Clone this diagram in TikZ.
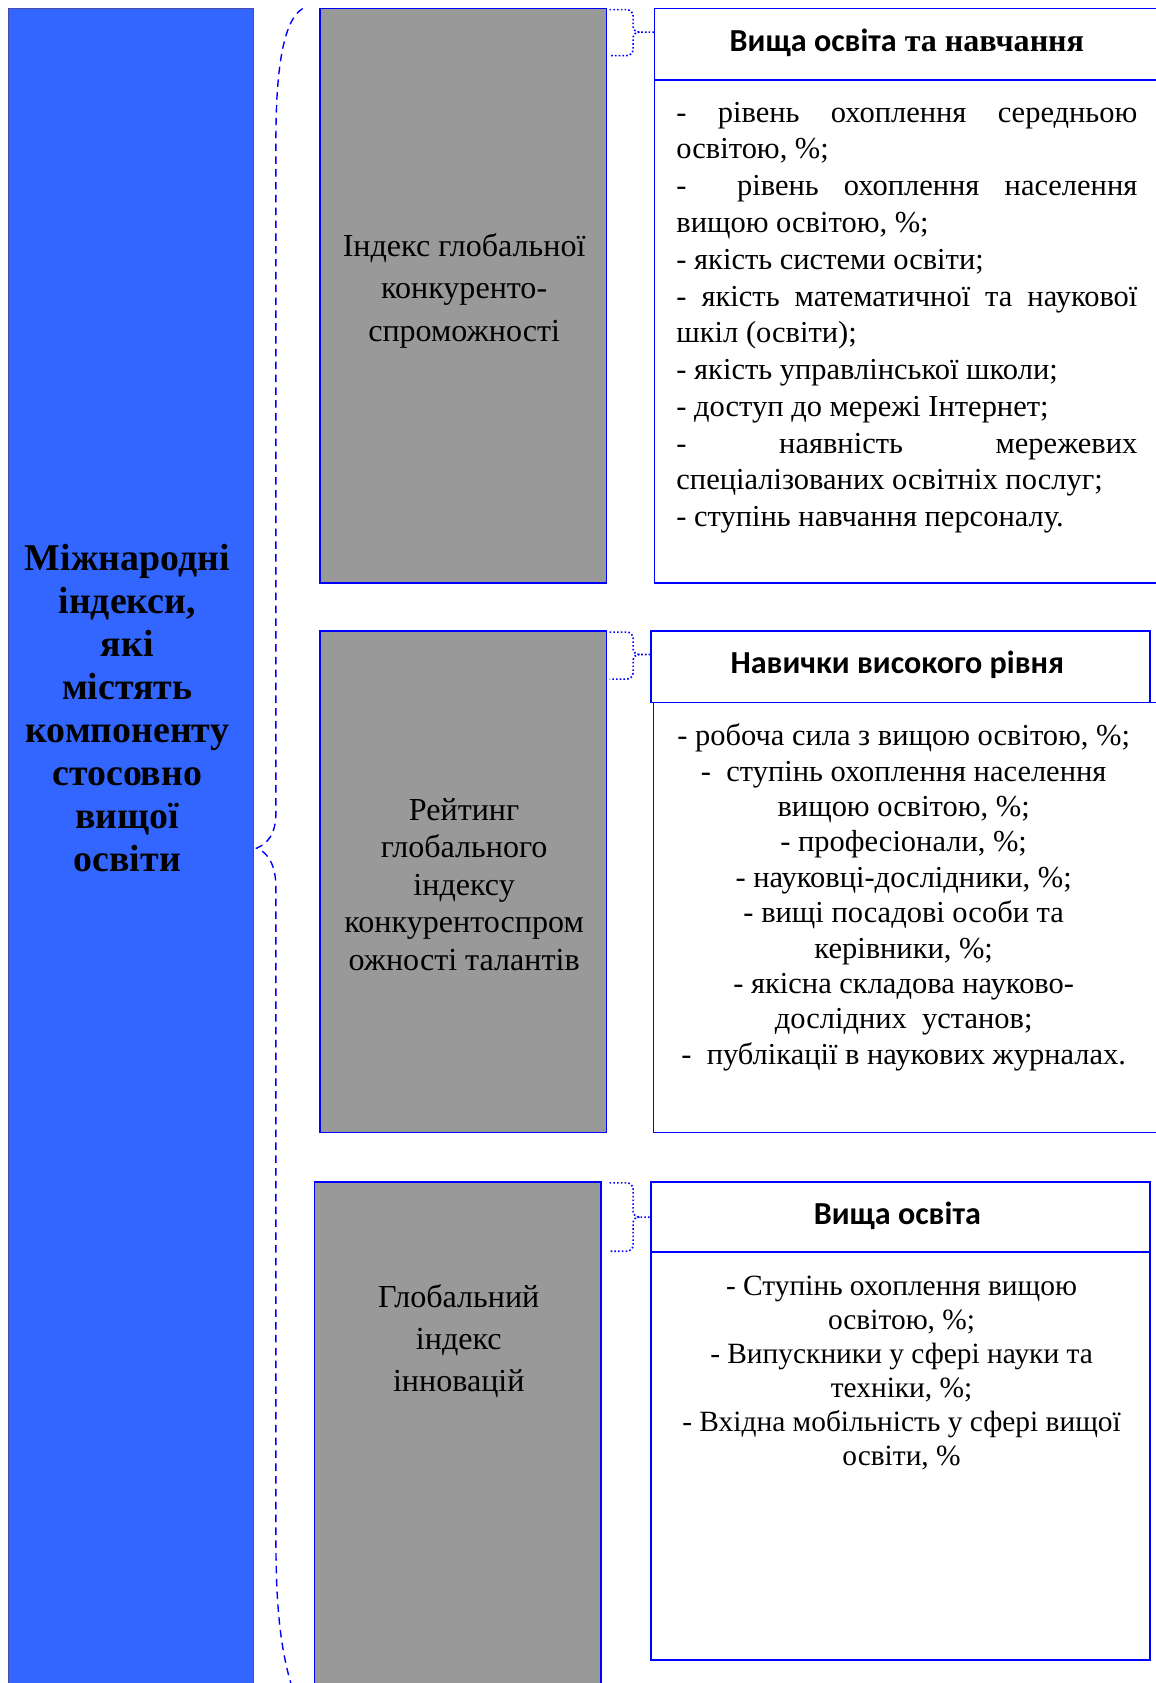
\documentclass[tikz,border=0pt]{standalone}
\usepackage{fontspec}
\setmainfont{Liberation Serif}
\newfontfamily\hdfont{Carlito}
\definecolor{mainblue}{HTML}{3366FF}
\definecolor{mainedge}{HTML}{4A4AAA}
\definecolor{grayfill}{HTML}{999999}
\definecolor{lineblue}{HTML}{0000FF}
\tikzset{
  ptx/.style={x=1pt,y=-1pt},
  graybox/.style={draw=lineblue,line width=1.6pt,fill=grayfill},
  whitebox/.style={draw=lineblue,line width=1.6pt,fill=white},
  brace/.style={draw=lineblue,line width=1.5pt,dotted},
  bigbrace/.style={draw=lineblue,line width=1.3pt,dash pattern=on 7pt off 5pt},
  txt/.style={inner sep=0pt,align=center,text=black},
}
\newcommand{\jl}[1]{\makebox[431pt][s]{#1}}
\begin{document}
\begin{tikzpicture}[ptx]
\useasboundingbox (0,0) rectangle (1080,1573.7);
% main blue box
\draw[draw=mainedge,line width=1.2pt,fill=mainblue] (8,8) rectangle (237,1580);
\node[txt,font=\bfseries\fontsize{35.4}{40.1}\selectfont] (main) at (119,662)
  {Міжнародні\\індекси,\\ які\\містять\\компоненту\\стосовно\\вищої\\освіти};
% big dashed brace
\draw[bigbrace] (283,8) .. controls (266,18) and (258,60) .. (258,130)
  -- (258,760) .. controls (258,780) and (250,789) .. (240,793)
  .. controls (250,797) and (258,808) .. (258,830)
  -- (258,1440) .. controls (258,1500) and (262,1540) .. (272,1574);
% gray boxes
\draw[graybox] (299,8) rectangle (567,545);
\node[txt,font=\fontsize{30}{40}\selectfont] (g1) at (434,272)
  {Індекс глобальної\\конкуренто-\\спроможності};
\draw[graybox] (299,590) rectangle (567,1059);
\node[txt,font=\fontsize{30}{35}\selectfont] (g2) at (434,827)
  {Рейтинг\\глобального\\індексу\\конкурентоспром\\ожності талантів};
\draw[graybox] (294,1105) rectangle (562,1590);
\node[txt,font=\fontsize{30}{39}\selectfont] (g3) at (429,1254)
  {Глобальний\\індекс\\інновацій};
% small dotted braces
\foreach \t/\m/\b in {9/30/52, 591/612/635, 1106/1138/1170}{
  \draw[brace] (570,\t) -- (586,\t) to[out=0,in=90] (592,\t+6) -- (592,\m-5)
    to[out=-90,in=180] (598,\m) -- (612,\m);
  \draw[brace] (598,\m) to[out=180,in=90] (592,\m+5) -- (592,\b-6)
    to[out=-90,in=0] (586,\b) -- (570,\b);
}
% right box 1
\draw[whitebox] (612,8) rectangle (1090,75);
\draw[whitebox] (612,75) rectangle (1090,545);
\node[txt,font=\bfseries\fontsize{30}{34}\selectfont] (h1) at (848,40)
  {{\hdfont Вища освіта} та навчання};
\node[txt,align=left,font=\fontsize{28.5}{34.4}\selectfont] (b1) at (848,297)
  {\jl{- рівень охоплення середньою}\\
   освітою, \%;\\
   \jl{-\ \ рівень охоплення населення}\\
   вищою освітою, \%;\\
   - якість системи освіти;\\
   \jl{- якість математичної та наукової}\\
   шкіл (освіти);\\
   - якість управлінської школи;\\
   - доступ до мережі Інтернет;\\
   \jl{- наявність мережевих}\\
   спеціалізованих освітніх послуг;\\
   - ступінь навчання персоналу.};
% right box 2
\draw[whitebox] (611,657) rectangle (1090,1059);
\draw[whitebox] (609,590) rectangle (1075,657);
\node[txt,font=\bfseries\fontsize{30}{34}\selectfont\hdfont] (h2) at (839,622)
  {Навички високого рівня};
\node[txt,font=\fontsize{28.5}{33.1}\selectfont] (b2) at (845,839)
  {- робоча сила з вищою освітою, \%;\\
   -\ \ ступінь охоплення населення\\
   вищою освітою, \%;\\
   - професіонали, \%;\\
   - науковці-дослідники, \%;\\
   - вищі посадові особи та\\
   керівники, \%;\\
   - якісна складова науково-\\
   дослідних\ \ установ;\\
   -\ \ публікації в наукових журналах.};
% right box 3
\draw[whitebox] (609,1105) rectangle (1075,1171);
\draw[whitebox] (609,1171) rectangle (1075,1552);
\node[txt,font=\bfseries\fontsize{30}{34}\selectfont\hdfont] (h3) at (839,1137)
  {Вища освіта};
\node[txt,font=\fontsize{27.5}{31.8}\selectfont] (b3) at (843,1284)
  {- Ступінь охоплення вищою\\
   освітою, \%;\\
   - Випускники у сфері науки та\\
   техніки, \%;\\
   - Вхідна мобільність у сфері вищої\\
   освіти, \%};
\end{tikzpicture}
\end{document}
